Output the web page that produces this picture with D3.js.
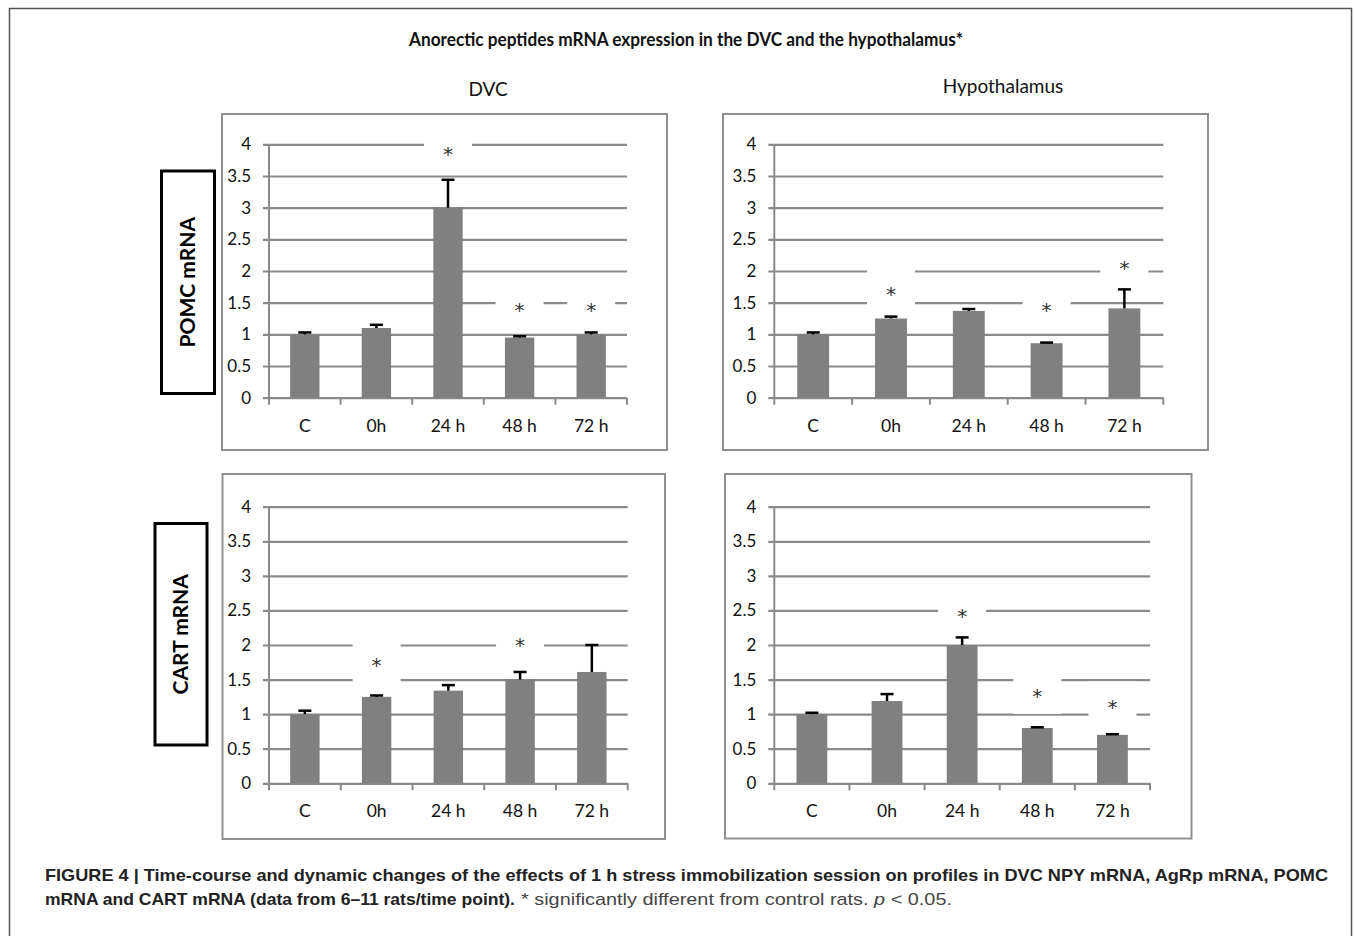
<!DOCTYPE html>
<html>
<head>
<meta charset="utf-8">
<script src="https://cdn.jsdelivr.net/npm/d3@7"></script>
<style>
  body { margin: 0; background: #fff; }
  svg { display: block; }
</style>
</head>
<body>
<div id="wrapper"></div>
<script>
// categories and ticks
const categories = ["C", "0h", "24 h", "48 h", "72 h"]
const yTicks = [0, 0.5, 1, 1.5, 2, 2.5, 3, 3.5, 4]

// bar heights (relative expression) and upper error (SEM) per panel
const pomcDvc = [1.0, 1.1, 3.0, 0.95, 1.0]
const pomcDvcErr = [0.03, 0.05, 0.44, 0.02, 0.03]
const pomcHyp = [1.0, 1.25, 1.37, 0.86, 1.41]
const pomcHypErr = [0.03, 0.03, 0.03, 0.01, 0.30]
const cartDvc = [1.0, 1.25, 1.34, 1.5, 1.61]
const cartDvcErr = [0.05, 0.02, 0.08, 0.11, 0.39]
const cartHyp = [1.0, 1.19, 2.0, 0.8, 0.7]
const cartHypErr = [0.02, 0.1, 0.11, 0.01, 0.01]

// significance stars: category and the value level they sit at
const pomcDvcStars = [["24 h", 3.91], ["48 h", 1.44], ["72 h", 1.44]]
const pomcHypStars = [["0h", 1.70], ["48 h", 1.44], ["72 h", 2.11]]
const cartDvcStars = [["0h", 1.77], ["48 h", 2.06]]
const cartHypStars = [["24 h", 2.48], ["48 h", 1.32], ["72 h", 1.16]]

const figureTitle = "Anorectic peptides mRNA expression in the DVC and the hypothalamus*"
const columnTitles = ["DVC", "Hypothalamus"]
const rowTitles = ["POMC mRNA", "CART mRNA"]

const chartFont = "Lato, 'Open Sans', sans-serif"
const captionFont = "'Liberation Sans', Arial, sans-serif"

const width = 1355
const height = 936

const svg = d3.select("#wrapper")
  .append("svg")
    .attr("width", width)
    .attr("height", height)

// outer figure frame
svg.append("rect")
    .attr("x", 9.5)
    .attr("y", 8.5)
    .attr("width", 1342)
    .attr("height", 960)
    .attr("fill", "none")
    .attr("stroke", "#555")
    .attr("stroke-width", 1.5)

// titles
svg.append("text")
    .attr("x", 409)
    .attr("y", 46)
    .attr("textLength", 554)
    .attr("lengthAdjust", "spacingAndGlyphs")
    .style("font-family", chartFont)
    .style("font-weight", "bold")
    .style("font-size", "19.5px")
    .attr("fill", "#111")
    .text(figureTitle)

svg.append("text")
    .attr("x", 488)
    .attr("y", 96)
    .attr("text-anchor", "middle")
    .style("font-family", chartFont)
    .style("font-size", "19px")
    .attr("fill", "#111")
    .text(columnTitles[0])

svg.append("text")
    .attr("x", 1003)
    .attr("y", 93)
    .attr("text-anchor", "middle")
    .style("font-family", chartFont)
    .style("font-size", "19px")
    .attr("fill", "#111")
    .text(columnTitles[1])

// row label boxes
const rowBoxes = [[161.5, 171, 214.5, 393.5], [155, 523.5, 207, 745]]
rowBoxes.forEach((b, i) => {
  svg.append("rect")
      .attr("x", b[0])
      .attr("y", b[1])
      .attr("width", b[2] - b[0])
      .attr("height", b[3] - b[1])
      .attr("fill", "#fff")
      .attr("stroke", "#000")
      .attr("stroke-width", 3)
  const cx = (b[0] + b[2]) / 2
  const cy = (b[1] + b[3]) / 2
  svg.append("text")
      .attr("transform", `translate(${cx},${cy}) rotate(-90)`)
      .attr("text-anchor", "middle")
      .attr("dy", "0.35em")
      .style("font-family", chartFont)
      .style("font-weight", "bold")
      .style("font-size", "21px")
      .attr("fill", "#000")
      .text(rowTitles[i])
})

// panel layout: chart box and plot area [x0, y0, x1, y1]
const panels = [
  { values: pomcDvc, errors: pomcDvcErr, stars: pomcDvcStars,
    box: [222, 114, 667, 450], plot: [269, 144.3, 627, 397.7] },
  { values: pomcHyp, errors: pomcHypErr, stars: pomcHypStars,
    box: [723, 114, 1208, 450], plot: [774.3, 144.3, 1163.3, 397.7] },
  { values: cartDvc, errors: cartDvcErr, stars: cartDvcStars,
    box: [222.5, 474, 665, 839], plot: [269, 506.7, 627.7, 783.3] },
  { values: cartHyp, errors: cartHypErr, stars: cartHypStars,
    box: [725, 474, 1191.5, 838.5], plot: [774.3, 506.7, 1150, 783.3] },
]

const gridColor = "#8a8a8a"
const barColor = "#808080"

panels.forEach(p => {
  const [px0, py0, px1, py1] = p.plot
  const data = categories.map((c, i) => ({ cat: c, value: p.values[i], err: p.errors[i] }))

  const xScale = d3.scaleBand()
    .domain(categories)
    .range([px0, px1])
  const barScale = d3.scaleBand()
    .domain(categories)
    .range([px0, px1])
    .paddingInner(0.59)
    .paddingOuter(0.295)
  const yScale = d3.scaleLinear()
    .domain([0, 4])
    .range([py1, py0])

  // chart area border
  svg.append("rect")
      .attr("x", p.box[0])
      .attr("y", p.box[1])
      .attr("width", p.box[2] - p.box[0])
      .attr("height", p.box[3] - p.box[1])
      .attr("fill", "none")
      .attr("stroke", "#8f8f8f")
      .attr("stroke-width", 2)

  // gridlines + y labels
  const yAxis = d3.axisLeft(yScale)
    .tickValues(yTicks)
    .tickFormat(d => String(d))
    .tickSizeInner(-(px1 - px0))
    .tickSizeOuter(0)
    .tickPadding(18)

  const yAxisGroup = svg.append("g")
      .attr("transform", `translate(${px0},0)`)
      .call(yAxis)
  yAxisGroup.select(".domain").remove()
  yAxisGroup.selectAll(".tick line")
      .attr("x1", -6)
      .attr("stroke", gridColor)
      .attr("stroke-width", 2.2)
  yAxisGroup.selectAll(".tick text")
      .style("font-family", chartFont)
      .style("font-size", "17px")
      .attr("fill", "#111")

  // vertical axis line and category ticks
  svg.append("line")
      .attr("x1", px0).attr("x2", px0)
      .attr("y1", py0).attr("y2", py1)
      .attr("stroke", gridColor)
      .attr("stroke-width", 2)
  const boundaries = categories.map(c => xScale(c)).concat([px1])
  svg.selectAll(null)
    .data(boundaries)
    .join("line")
      .attr("x1", d => d).attr("x2", d => d)
      .attr("y1", py1).attr("y2", py1 + 7)
      .attr("stroke", gridColor)
      .attr("stroke-width", 2)

  // white boxes behind significance stars (they cut the gridlines)
  svg.selectAll(null)
    .data(p.stars)
    .join("rect")
      .attr("x", d => xScale(d[0]) + xScale.bandwidth() / 2 - 24)
      .attr("y", d => yScale(d[1]) - 22)
      .attr("width", 48)
      .attr("height", 44)
      .attr("fill", "#fff")

  // bars
  svg.selectAll(null)
    .data(data)
    .join("rect")
      .attr("x", d => barScale(d.cat))
      .attr("y", d => yScale(d.value))
      .attr("width", barScale.bandwidth())
      .attr("height", d => yScale(0) - yScale(d.value))
      .attr("fill", barColor)

  // error bars (upper only)
  const errGroup = svg.append("g")
  const cx = d => barScale(d.cat) + barScale.bandwidth() / 2
  errGroup.selectAll(null)
    .data(data)
    .join("line")
      .attr("x1", cx).attr("x2", cx)
      .attr("y1", d => yScale(d.value))
      .attr("y2", d => yScale(d.value + d.err))
      .attr("stroke", "#000")
      .attr("stroke-width", 2.5)
  errGroup.selectAll(null)
    .data(data)
    .join("line")
      .attr("x1", d => cx(d) - 6.5).attr("x2", d => cx(d) + 6.5)
      .attr("y1", d => yScale(d.value + d.err))
      .attr("y2", d => yScale(d.value + d.err))
      .attr("stroke", "#000")
      .attr("stroke-width", 2.5)

  // category labels
  svg.selectAll(null)
    .data(categories)
    .join("text")
      .attr("x", d => xScale(d) + xScale.bandwidth() / 2)
      .attr("y", py1 + 34)
      .attr("text-anchor", "middle")
      .style("font-family", chartFont)
      .style("font-size", "17.5px")
      .attr("fill", "#111")
      .text(d => d)

  // stars
  svg.selectAll(null)
    .data(p.stars)
    .join("text")
      .attr("x", d => xScale(d[0]) + xScale.bandwidth() / 2)
      .attr("y", d => yScale(d[1]))
      .attr("dy", "0.55em")
      .attr("text-anchor", "middle")
      .style("font-family", "'DejaVu Sans', sans-serif")
      .style("font-size", "20px")
      .attr("fill", "#333")
      .text("*")
})

// caption
svg.append("text")
    .attr("x", 45)
    .attr("y", 881)
    .attr("textLength", 1283)
    .attr("lengthAdjust", "spacingAndGlyphs")
    .style("font-family", captionFont)
    .style("font-weight", "bold")
    .style("font-size", "17px")
    .attr("fill", "#222")
    .text("FIGURE 4 | Time-course and dynamic changes of the effects of 1 h stress immobilization session on profiles in DVC NPY mRNA, AgRp mRNA, POMC")

svg.append("text")
    .attr("x", 45)
    .attr("y", 905)
    .attr("textLength", 470)
    .attr("lengthAdjust", "spacingAndGlyphs")
    .style("font-family", captionFont)
    .style("font-weight", "bold")
    .style("font-size", "17px")
    .attr("fill", "#222")
    .text("mRNA and CART mRNA (data from 6–11 rats/time point).")

const caption2 = svg.append("text")
    .attr("x", 521)
    .attr("y", 905)
    .attr("textLength", 431)
    .attr("lengthAdjust", "spacingAndGlyphs")
    .style("font-family", captionFont)
    .style("font-size", "17px")
    .attr("fill", "#444")
caption2.append("tspan")
    .text("* significantly different from control rats. ")
caption2.append("tspan")
    .style("font-style", "italic")
    .text("p")
caption2.append("tspan")
    .text(" < 0.05.")
</script>
</body>
</html>
